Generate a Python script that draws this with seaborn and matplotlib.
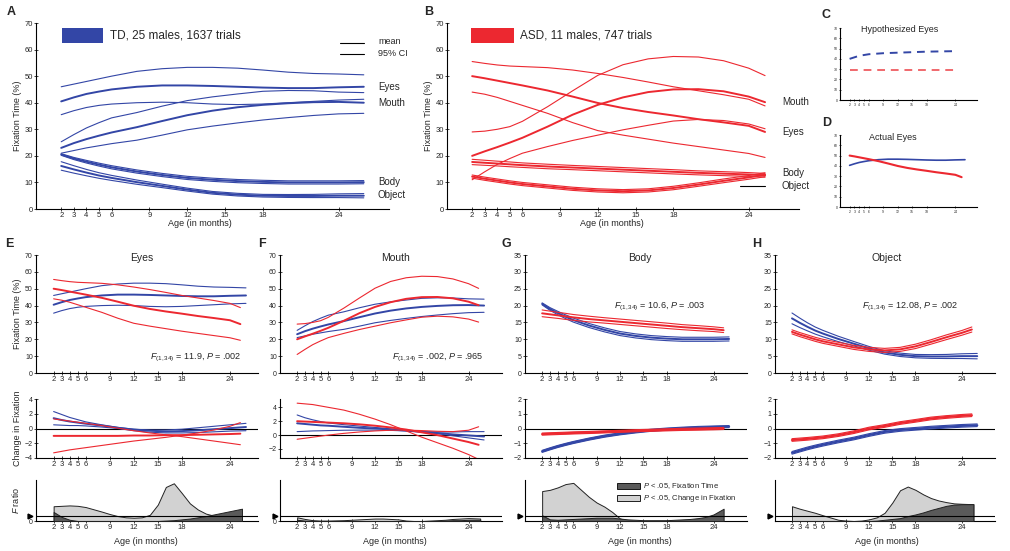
import matplotlib
matplotlib.use('Agg')
import matplotlib.pyplot as plt
import seaborn as sns
from matplotlib.patches import Rectangle, Patch
from matplotlib.lines import Line2D

sns.set_style('ticks')
plt.rcParams['font.family'] = ['Liberation Sans', 'DejaVu Sans']
plt.rcParams['mathtext.fontset'] = 'custom'
plt.rcParams['mathtext.it'] = 'Liberation Sans:italic'
plt.rcParams['mathtext.rm'] = 'Liberation Sans'

BLUE = '#3346a6'
RED = '#ec2830'
LIGHT = '#d2d2d2'
DARK = '#5a5a5a'

# ---- ages ----
td_ages = [2, 3, 4, 5, 6, 8, 10, 12, 14, 16, 18, 20, 22, 24, 26]
asd_ages = [2, 3, 4, 5, 6, 8, 10, 12, 14, 16, 18, 20, 22, 24, 25.3]
tick_ages = [2, 3, 4, 5, 6, 9, 12, 15, 18, 24]
f_ages = [2, 3, 4, 5, 6, 8, 9, 10, 11, 12, 13, 14, 15, 16, 17, 18, 19, 20, 21, 22, 23, 24, 25.5]

# ---- fixation time (%), TD ----
td_eyes_hi = [46, 47, 48, 49, 50, 51.8, 52.8, 53.3, 53.3, 53, 52.3, 51.5, 51, 50.8, 50.5]
td_eyes = [40.5, 42, 43.3, 44.2, 45, 46, 46.5, 46.5, 46.3, 46, 45.7, 45.5, 45.5, 45.8, 46]
td_eyes_lo = [35.5, 37, 38.2, 39, 39.5, 40, 40.2, 40, 39.5, 39.3, 39.5, 40, 40.5, 41, 41.3]
td_mouth_hi = [25.3, 28, 30.5, 32.5, 34.3, 36.3, 38.7, 40.8, 42.2, 43.3, 44.3, 44.6, 44.5, 44, 43.8]
td_mouth = [23, 24.8, 26.3, 27.6, 28.8, 30.8, 33.1, 35.3, 37, 38.3, 39.2, 39.8, 40.2, 40.3, 40]
td_mouth_lo = [21, 22, 23, 23.8, 24.6, 25.9, 27.8, 29.8, 31.2, 32.4, 33.5, 34.4, 35.2, 35.8, 36]
td_body = [20.5, 19, 17.8, 16.7, 15.7, 14.1, 12.8, 11.7, 11, 10.5, 10.2, 10, 10, 10, 10.1]
td_body_ci = [0.3, 0.4, 0.5, 0.55, 0.6, 0.6, 0.6, 0.6, 0.6, 0.6, 0.6, 0.6, 0.6, 0.6, 0.6]
td_obj = [16.2, 14.9, 13.7, 12.6, 11.7, 10.1, 8.7, 7.3, 6.1, 5.4, 5.0, 4.9, 4.9, 5.0, 5.0]
td_obj_ci = [1.6, 1.4, 1.2, 1.05, 0.95, 0.8, 0.65, 0.55, 0.5, 0.5, 0.5, 0.55, 0.6, 0.7, 0.8]

# ---- fixation time (%), ASD ----
asd_eyes_hi = [55.5, 54.8, 54.2, 53.8, 53.6, 53.2, 52.3, 51, 49.5, 47.8, 46, 44.5, 43, 41.3, 38.8]
asd_eyes = [50, 49.2, 48.3, 47.4, 46.5, 44.6, 42.3, 39.9, 38, 36.5, 35.2, 33.8, 32.6, 31.3, 29]
asd_eyes_lo = [44, 43.2, 42, 40.5, 39, 36, 32.5, 29.5, 27.8, 26.3, 24.8, 23.5, 22.2, 20.9, 19.4]
asd_mouth_hi = [29, 29.3, 30, 31, 33, 38.5, 44.5, 50.3, 54.3, 56.5, 57.4, 57.2, 55.8, 53, 50.2]
asd_mouth = [20, 21.7, 23.3, 25, 26.8, 31, 35.5, 39.2, 42, 44, 45, 45.1, 44.3, 42.3, 40.2]
asd_mouth_lo = [11, 14, 16.8, 19, 21, 23.5, 25.8, 27.8, 29.8, 31.5, 33.1, 33.7, 33.3, 32, 30.2]
asd_body = [17.7, 17.4, 17.1, 16.8, 16.5, 16, 15.6, 15.2, 14.8, 14.4, 14, 13.6, 13.3, 13, 12.7]
asd_body_ci = [1.0, 0.95, 0.9, 0.9, 0.85, 0.85, 0.8, 0.8, 0.8, 0.8, 0.8, 0.75, 0.75, 0.7, 0.7]
asd_obj = [12.2, 11.4, 10.7, 10.0, 9.4, 8.5, 7.6, 7.0, 6.7, 7.0, 7.9, 9.2, 10.6, 11.9, 12.9]
asd_obj_ci = [0.6, 0.6, 0.6, 0.6, 0.6, 0.6, 0.6, 0.6, 0.6, 0.6, 0.65, 0.65, 0.7, 0.7, 0.75]

# ---- hypothesized eyes (panel C) ----
hyp_ages = [2, 4, 6, 9, 12, 15, 18, 24]
hyp_td = [40, 43, 44.5, 45.5, 46, 46.5, 47, 47.5]
hyp_asd = [29, 29, 29, 29, 29, 29, 29, 29]

# ---- change in fixation ----
td_eyes_chg_a = [2.3, 1.9, 1.5, 1.2, 0.9, 0.5, 0.15, -0.1, -0.2, -0.2, -0.1, 0.1, 0.3, 0.5, 0.7]
td_eyes_chg = [1.4, 1.15, 0.95, 0.8, 0.65, 0.4, 0.1, -0.15, -0.3, -0.4, -0.35, -0.25, -0.1, 0.05, 0.2]
td_eyes_chg_b = [0.5, 0.45, 0.4, 0.4, 0.35, 0.2, 0, -0.3, -0.5, -0.6, -0.6, -0.55, -0.45, -0.35, -0.3]
asd_eyes_chg_a = [1.3, 1.15, 1.0, 0.85, 0.7, 0.4, 0.05, -0.3, -0.6, -0.85, -1.1, -1.4, -1.7, -2.0, -2.2]
asd_eyes_chg = [-1.0, -1.0, -1.0, -1.0, -1.0, -1.0, -1.0, -0.95, -0.95, -0.9, -0.9, -0.85, -0.8, -0.75, -0.7]
asd_eyes_chg_b = [-3.3, -3.1, -2.9, -2.75, -2.6, -2.3, -2.0, -1.7, -1.45, -1.2, -0.9, -0.6, -0.2, 0.3, 0.8]

td_mouth_chg_a = [2.9, 2.5, 2.2, 1.95, 1.75, 1.5, 1.3, 1.1, 0.9, 0.7, 0.45, 0.2, -0.1, -0.4, -0.7]
td_mouth_chg = [1.7, 1.6, 1.5, 1.4, 1.35, 1.2, 1.05, 0.95, 0.8, 0.65, 0.45, 0.3, 0.1, -0.05, -0.2]
td_mouth_chg_b = [0.5, 0.55, 0.6, 0.62, 0.65, 0.7, 0.72, 0.72, 0.68, 0.6, 0.5, 0.45, 0.45, 0.5, 0.5]
asd_mouth_chg_a = [4.6, 4.5, 4.4, 4.2, 4.0, 3.6, 3.0, 2.3, 1.5, 0.6, -0.3, -1.1, -1.9, -2.8, -3.5]
asd_mouth_chg = [2.0, 1.95, 1.9, 1.85, 1.8, 1.7, 1.55, 1.35, 1.1, 0.8, 0.4, 0, -0.5, -1.0, -1.4]
asd_mouth_chg_b = [-0.6, -0.45, -0.3, -0.15, 0, 0.25, 0.45, 0.6, 0.7, 0.72, 0.65, 0.55, 0.5, 0.7, 1.2]

td_body_chg = [-1.55, -1.38, -1.22, -1.08, -0.95, -0.72, -0.52, -0.36, -0.23, -0.12, -0.04, 0.02, 0.07, 0.1, 0.13]
asd_body_chg = [-0.38, -0.36, -0.34, -0.32, -0.3, -0.27, -0.23, -0.19, -0.15, -0.12, -0.09, -0.06, -0.04, -0.02, 0]
td_obj_chg = [-1.65, -1.5, -1.35, -1.22, -1.1, -0.88, -0.68, -0.44, -0.23, -0.1, -0.02, 0.06, 0.12, 0.18, 0.22]
asd_obj_chg = [-0.78, -0.74, -0.7, -0.65, -0.6, -0.45, -0.25, 0, 0.17, 0.37, 0.52, 0.68, 0.78, 0.86, 0.9]
body_chg_ci = 0.07
obj_chg_ci = 0.09

# ---- F ratios ----
f_threshold = 1.15
eyes_f_chg = [3.6, 3.7, 3.8, 3.7, 3.4, 2.3, 1.7, 1.2, 0.9, 0.8, 0.9, 1.5, 4.0, 8.3, 9.2, 6.8, 4.3, 2.8, 1.8, 1.3, 1.1, 1.0, 0.9]
eyes_f_fix = [2.2, 1.0, 0.3, 0, 0, 0, 0, 0, 0, 0, 0, 0, 0, 0.1, 0.2, 0.4, 0.6, 0.9, 1.2, 1.6, 2.0, 2.4, 3.0]
mouth_f_chg = [0.9, 0.5, 0.2, 0.1, 0.1, 0.2, 0.3, 0.4, 0.5, 0.6, 0.6, 0.5, 0.4, 0.1, 0, 0, 0.1, 0.2, 0.3, 0.5, 0.6, 0.7, 0.6]
mouth_f_fix = [0.3, 0.1, 0, 0, 0, 0, 0, 0, 0, 0, 0, 0, 0, 0, 0, 0, 0, 0, 0.1, 0.2, 0.2, 0.3, 0.3]
body_f_chg = [7.3, 7.6, 8.2, 9.0, 9.3, 5.9, 4.5, 3.5, 2.2, 0.6, 0.1, 0, 0, 0, 0, 0, 0, 0, 0, 0, 0, 0, 0]
body_f_fix = [1.4, 0.4, 0.3, 0.4, 0.5, 0.7, 0.8, 0.8, 0.8, 0.6, 0.4, 0.3, 0.2, 0.2, 0.2, 0.2, 0.3, 0.4, 0.5, 0.7, 1.0, 1.6, 3.0]
obj_f_chg = [3.6, 3.0, 2.5, 2.0, 1.4, 0.3, 0.1, 0, 0.1, 0.4, 0.9, 2.0, 4.5, 7.5, 8.4, 7.6, 6.5, 5.6, 5.0, 4.6, 4.3, 4.2, 4.1]
obj_f_fix = [0, 0, 0, 0, 0, 0, 0, 0, 0, 0, 0.1, 0.3, 0.5, 0.7, 1.2, 1.6, 2.1, 2.7, 3.2, 3.7, 4.0, 4.1, 4.1]

W, H = 1010, 551
fig = plt.figure(figsize=(W / 100, H / 100), dpi=100)


def box(l, t, r, b):
    return fig.add_axes([l / W, 1 - b / H, (r - l) / W, (b - t) / H])


def ftext(x, y, s, **kw):
    kw.setdefault('fontsize', 7)
    kw.setdefault('va', 'center')
    fig.text(x / W, 1 - y / H, s, **kw)


def style(ax, xlim, ylim, yticks, yfs=5.5, xfs=5.5, ticklen=3):
    ax.set_xlim(*xlim)
    ax.set_ylim(*ylim)
    ax.set_xticks(tick_ages)
    ax.set_xticklabels([str(a) for a in tick_ages])
    ax.set_yticks(yticks)
    ax.tick_params(direction='inout', length=ticklen, width=0.6, pad=0.8, labelsize=yfs)
    ax.tick_params(axis='x', labelsize=xfs)
    sns.despine(ax=ax)
    for s in ['left', 'bottom']:
        ax.spines[s].set_linewidth(0.8)
        ax.spines[s].set_color('k')
    ax.grid(False)


def trio(ax, x, lo, mid, hi, color, lw_mid=1.4, lw_ci=0.8):
    sns.lineplot(x=x, y=lo, ax=ax, color=color, linewidth=lw_ci)
    sns.lineplot(x=x, y=hi, ax=ax, color=color, linewidth=lw_ci)
    sns.lineplot(x=x, y=mid, ax=ax, color=color, linewidth=lw_mid)


def band(ax, x, mid, ci, color, lw_mid=1.4, lw_ci=0.8):
    ci = [ci] * len(mid) if not isinstance(ci, list) else ci
    lo = [m - c for m, c in zip(mid, ci)]
    hi = [m + c for m, c in zip(mid, ci)]
    trio(ax, x, lo, mid, hi, color, lw_mid, lw_ci)


# ---- Panel A ----
axA = box(36, 23, 389, 209)
trio(axA, td_ages, td_eyes_lo, td_eyes, td_eyes_hi, BLUE)
trio(axA, td_ages, td_mouth_lo, td_mouth, td_mouth_hi, BLUE)
band(axA, td_ages, td_body, td_body_ci, BLUE)
band(axA, td_ages, td_obj, td_obj_ci, BLUE)
style(axA, (0, 28), (0, 70), range(0, 71, 10))
axA.set_ylabel('Fixation Time (%)', fontsize=6.5, labelpad=2)

# ---- Panel B ----
axB = box(447, 23, 799, 209)
trio(axB, asd_ages, asd_eyes_lo, asd_eyes, asd_eyes_hi, RED)
trio(axB, asd_ages, asd_mouth_lo, asd_mouth, asd_mouth_hi, RED)
band(axB, asd_ages, asd_body, asd_body_ci, RED)
band(axB, asd_ages, asd_obj, asd_obj_ci, RED)
style(axB, (0, 28), (0, 70), range(0, 71, 10))
axB.set_ylabel('Fixation Time (%)', fontsize=6.5, labelpad=2)

# ---- Panel C / D ----
axC = box(840, 28, 977, 100)
sns.lineplot(x=hyp_ages, y=hyp_td, ax=axC, color=BLUE, linewidth=1.4, linestyle=(0, (4, 3)))
sns.lineplot(x=hyp_ages, y=hyp_asd, ax=axC, color='#f0686c', linewidth=1.4, linestyle=(0, (4, 3)))
style(axC, (0, 28.5), (0, 70), range(0, 71, 10), yfs=2.5, xfs=2.5, ticklen=2)

axD = box(840, 135, 977, 207)
sns.lineplot(x=td_ages, y=td_eyes, ax=axD, color=BLUE, linewidth=1.2)
sns.lineplot(x=asd_ages, y=asd_eyes, ax=axD, color=RED, linewidth=1.5)
style(axD, (0, 28.5), (0, 70), range(0, 71, 10), yfs=2.5, xfs=2.5, ticklen=2)

# ---- Panels E-H ----
cols = [(36, 258, (-0.2, 27.5)), (280, 502, (-0.2, 28.3)),
        (525, 747, (-0.2, 28.3)), (775, 995, (-0.2, 28.3))]
fix_axes, chg_axes, f_axes = [], [], []
for l, r, xl in cols:
    fix_axes.append(box(l, 255, r, 373))
    chg_axes.append(box(l, 399, r, 458))
    f_axes.append(box(l, 480, r, 521))

# fixation time row
ax = fix_axes[0]
trio(ax, td_ages, td_eyes_lo, td_eyes, td_eyes_hi, BLUE)
trio(ax, asd_ages, asd_eyes_lo, asd_eyes, asd_eyes_hi, RED)
ax = fix_axes[1]
trio(ax, td_ages, td_mouth_lo, td_mouth, td_mouth_hi, BLUE)
trio(ax, asd_ages, asd_mouth_lo, asd_mouth, asd_mouth_hi, RED)
ax = fix_axes[2]
band(ax, td_ages, td_body, td_body_ci, BLUE)
band(ax, asd_ages, asd_body, asd_body_ci, RED)
ax = fix_axes[3]
band(ax, td_ages, td_obj, td_obj_ci, BLUE)
band(ax, asd_ages, asd_obj, asd_obj_ci, RED)
for i, ax in enumerate(fix_axes):
    if i < 2:
        style(ax, cols[i][2], (0, 70), range(0, 71, 10), yfs=5)
    else:
        style(ax, cols[i][2], (0, 35), range(0, 36, 5), yfs=5)
fix_axes[0].set_ylabel('Fixation Time (%)', fontsize=6.5, labelpad=2)

# change in fixation row
ax = chg_axes[0]
trio(ax, td_ages, td_eyes_chg_b, td_eyes_chg, td_eyes_chg_a, BLUE)
trio(ax, asd_ages, asd_eyes_chg_b, asd_eyes_chg, asd_eyes_chg_a, RED)
ax = chg_axes[1]
trio(ax, td_ages, td_mouth_chg_b, td_mouth_chg, td_mouth_chg_a, BLUE)
trio(ax, asd_ages, asd_mouth_chg_b, asd_mouth_chg, asd_mouth_chg_a, RED)
ax = chg_axes[2]
band(ax, td_ages, td_body_chg, body_chg_ci, BLUE, lw_mid=1.6)
band(ax, asd_ages, asd_body_chg, body_chg_ci, RED, lw_mid=1.6)
ax = chg_axes[3]
band(ax, td_ages, td_obj_chg, obj_chg_ci, BLUE, lw_mid=1.6)
band(ax, asd_ages, asd_obj_chg, obj_chg_ci, RED, lw_mid=1.6)
chg_lims = [(-4, 4), (-3.3, 5.2), (-2, 2), (-2, 2)]
chg_ticks = [[-4, -2, 0, 2, 4], [-2, 0, 2, 4], [-2, -1, 0, 1, 2], [-2, -1, 0, 1, 2]]
for i, ax in enumerate(chg_axes):
    style(ax, cols[i][2], chg_lims[i], chg_ticks[i], yfs=5)
    ax.axhline(0, color='k', linewidth=0.8, zorder=1)
chg_axes[0].set_ylabel('Change in Fixation', fontsize=6.5, labelpad=2)

# F ratio row
f_sets = [(eyes_f_chg, eyes_f_fix), (mouth_f_chg, mouth_f_fix),
          (body_f_chg, body_f_fix), (obj_f_chg, obj_f_fix)]
for i, ax in enumerate(f_axes):
    chg, fix = f_sets[i]
    x = f_ages if i != 2 else f_ages[:-1] + [25.3]
    ax.fill_between(x, 0, chg, facecolor=LIGHT, edgecolor='#222222', linewidth=0.7, zorder=2)
    ax.fill_between(x, 0, fix, facecolor=DARK, edgecolor='#222222', linewidth=0.7, zorder=3)
    ax.axhline(f_threshold, color='k', linewidth=0.8, zorder=4)
    style(ax, cols[i][2], (0, 10), [], yfs=5)
    ax.plot([-0.9], [f_threshold], marker='>', color='k', markersize=3.5,
            clip_on=False, zorder=5)
    if i < 2:
        ax.set_yticks([0])
        ax.set_yticklabels(['0'])
f_axes[0].set_ylabel('$F$ ratio', fontsize=6.5, labelpad=6)

f_axes[2].legend(handles=[Patch(facecolor=DARK, edgecolor='k', linewidth=0.6,
                                label='$P$ < .05, Fixation Time'),
                          Patch(facecolor=LIGHT, edgecolor='k', linewidth=0.6,
                                label='$P$ < .05, Change in Fixation')],
                 loc='upper left', bbox_to_anchor=(612 / W, 1 - 477 / H),
                 bbox_transform=fig.transFigure, frameon=False, fontsize=5.5,
                 handlelength=3.0, handleheight=0.9, labelspacing=0.25,
                 borderpad=0.1, handletextpad=0.5)

# ---- legends and labels ----
fig.patches.append(Rectangle((62 / W, 1 - 43 / H), 41 / W, 15 / H,
                             transform=fig.transFigure, facecolor=BLUE, edgecolor='none'))
ftext(110, 36, 'TD, 25 males, 1637 trials', fontsize=8.5)
fig.patches.append(Rectangle((471 / W, 1 - 43 / H), 43 / W, 15 / H,
                             transform=fig.transFigure, facecolor=RED, edgecolor='none'))
ftext(520, 36, 'ASD, 11 males, 747 trials', fontsize=8.5)

for y in (43, 54):
    fig.add_artist(Line2D([340 / W, 364 / W], [1 - y / H, 1 - y / H], color='k',
                          linewidth=0.8, transform=fig.transFigure))
ftext(378, 42, 'mean', fontsize=6.5)
ftext(378, 54, '95% CI', fontsize=6.5)
fig.add_artist(Line2D([740 / W, 765 / W], [1 - 186 / H, 1 - 186 / H], color='k',
                      linewidth=0.8, transform=fig.transFigure))

for name, y in [('Eyes', 87), ('Mouth', 103), ('Body', 182), ('Object', 195)]:
    ftext(378, y, name, fontsize=7)
for name, y in [('Mouth', 102), ('Eyes', 132), ('Body', 173), ('Object', 186)]:
    ftext(782, y, name, fontsize=7)

ftext(200, 224, 'Age (in months)', fontsize=6.5, ha='center')
ftext(612, 224, 'Age (in months)', fontsize=6.5, ha='center')
for cx in (146, 395, 640, 887):
    ftext(cx, 541, 'Age (in months)', fontsize=6.5, ha='center')

ftext(900, 30, 'Hypothesized Eyes', fontsize=6.5, ha='center')
ftext(893, 137, 'Actual Eyes', fontsize=6.5, ha='center')

for name, cx in [('Eyes', 142), ('Mouth', 395), ('Body', 640), ('Object', 887)]:
    ftext(cx, 258, name, fontsize=7.5, ha='center')

ftext(241, 358, r'$F_{(1,34)}$ = 11.9, $P$ = .002', fontsize=6.5, ha='right')
ftext(483, 358, r'$F_{(1,34)}$ = .002, $P$ = .965', fontsize=6.5, ha='right')
ftext(614, 307, r'$F_{(1,34)}$ = 10.6, $P$ = .003', fontsize=6.5)
ftext(862, 307, r'$F_{(1,34)}$ = 12.08, $P$ = .002', fontsize=6.5)

for letter, x, y in [('A', 7, 12), ('B', 424, 12), ('C', 822, 15), ('D', 822, 123),
                     ('E', 5, 244), ('F', 258, 244), ('G', 502, 244), ('H', 752, 244)]:
    ftext(x, y, letter, fontsize=9, fontweight='bold')

fig.savefig('out.png', dpi=100)
